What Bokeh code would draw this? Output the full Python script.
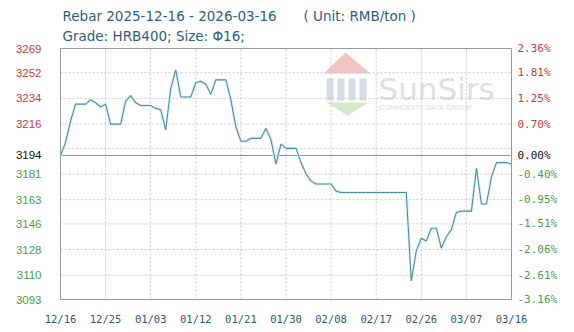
import pandas as pd
from bokeh.plotting import figure
from bokeh.models import (ColumnDataSource, FixedTicker, Range1d, Label,
                          PolyAnnotation, BoxAnnotation)
from bokeh.core.properties import value
from bokeh.embed import file_html
from bokeh.resources import INLINE

# ---------------- data ----------------
title_text = "Rebar 2025-12-16 - 2026-03-16"
unit_text = "( Unit: RMB/ton )"
subtitle_text = "Grade: HRB400; Size: \u03a616;"

start_date = "2025-12-16"
end_date = "2026-03-16"
base_price = 3194

dates = ["2025-12-16", "2025-12-17", "2025-12-18", "2025-12-19", "2025-12-21",
         "2025-12-22", "2025-12-23", "2025-12-24", "2025-12-25", "2025-12-26",
         "2025-12-28", "2025-12-29", "2025-12-30", "2025-12-31", "2026-01-01",
         "2026-01-03", "2026-01-04", "2026-01-05", "2026-01-06", "2026-01-07",
         "2026-01-08", "2026-01-09", "2026-01-11", "2026-01-12", "2026-01-13",
         "2026-01-14", "2026-01-15", "2026-01-16", "2026-01-18", "2026-01-19",
         "2026-01-20", "2026-01-21", "2026-01-22", "2026-01-23", "2026-01-25",
         "2026-01-26", "2026-01-27", "2026-01-28", "2026-01-29", "2026-01-30",
         "2026-02-01", "2026-02-02", "2026-02-03", "2026-02-04", "2026-02-05",
         "2026-02-08", "2026-02-09", "2026-02-10", "2026-02-23", "2026-02-24",
         "2026-02-25", "2026-02-26", "2026-02-27", "2026-02-28", "2026-03-01",
         "2026-03-02", "2026-03-03", "2026-03-04", "2026-03-05", "2026-03-06",
         "2026-03-08", "2026-03-09", "2026-03-10", "2026-03-11", "2026-03-12",
         "2026-03-13", "2026-03-15", "2026-03-16"]
prices = [3194, 3203, 3218, 3230, 3230,
          3233, 3231, 3228, 3230, 3216,
          3216, 3232, 3236, 3231, 3229,
          3229, 3227, 3226, 3212, 3241,
          3254, 3235, 3235, 3245, 3246,
          3244, 3237, 3247, 3247, 3233,
          3214, 3204, 3204, 3206, 3206,
          3213, 3205, 3188, 3202, 3199,
          3199, 3189, 3181, 3176, 3174,
          3174, 3169, 3168, 3168, 3106,
          3127, 3136, 3134, 3143, 3143,
          3129, 3137, 3142, 3154, 3155,
          3155, 3185, 3160, 3160, 3179,
          3189, 3189, 3188]

tick_dates = ["2025-12-16", "2025-12-25", "2026-01-03", "2026-01-12", "2026-01-21",
              "2026-01-30", "2026-02-08", "2026-02-17", "2026-02-26", "2026-03-07",
              "2026-03-16"]
tick_labels = ["12/16", "12/25", "01/03", "01/12", "01/21", "01/30", "02/08",
               "02/17", "02/26", "03/07", "03/16"]

grid_values = [3269, 3252, 3234, 3216, 3199, 3181, 3163, 3146, 3128, 3110, 3093]
left_values = [3269, 3252, 3234, 3216, 3194, 3181, 3163, 3146, 3128, 3110, 3093]
left_labels = ["3269", "3252", "3234", "3216", "3194", "3181", "3163", "3146",
               "3128", "3110", "3093"]
right_labels = ["2.36%", "1.81%", "1.25%", "0.70%", "0.00%", "-0.40%", "-0.95%",
                "-1.51%", "-2.06%", "-2.61%", "-3.16%"]

# ---------------- derived ----------------
t0 = pd.Timestamp(start_date)
days = [(pd.Timestamp(d) - t0).days for d in dates]
tick_days = [(pd.Timestamp(d) - t0).days for d in tick_dates]
x0, x1 = 0, (pd.Timestamp(end_date) - t0).days
y0, y1 = min(grid_values), max(grid_values)

RED, BLACK, GREEN = "#cc3b3b", "#111111", "#4a9e4a"
label_colors = [RED if v > base_price else (BLACK if v == base_price else GREEN)
                for v in left_values]

# layout (canvas pixels) of the plotting box
W, H = 574, 332
BOX_L, BOX_R, BOX_T, BOX_B = 60, 511, 48, 299
AXIS_H = 23                     # space under the frame for the date axis
FRAME_H = H - AXIS_H
dpp = (x1 - x0) / (BOX_R - BOX_L)
upp = (y1 - y0) / (BOX_B - BOX_T)
x_range = Range1d(x0 - BOX_L * dpp, x1 + (W - BOX_R) * dpp)
y_range = Range1d(y0 - (FRAME_H - BOX_B) * upp, y1 + BOX_T * upp)

src = ColumnDataSource(dict(x=days, y=prices))
lsrc = ColumnDataSource(dict(y=left_values, lt=left_labels, rt=right_labels,
                             c=label_colors,
                             xl=[x0] * len(left_values), xr=[x1] * len(left_values)))
vsrc = ColumnDataSource(dict(x=tick_days, ya=[y0] * len(tick_days),
                             yb=[y1] * len(tick_days)))
hsrc = ColumnDataSource(dict(y=grid_values, xa=[x0] * len(grid_values),
                             xb=[x1] * len(grid_values)))

p = figure(width=W, height=H, x_range=x_range, y_range=y_range,
           output_backend="svg", toolbar_location=None,
           min_border_left=0, min_border_right=0, min_border_top=0,
           min_border_bottom=AXIS_H)
p.background_fill_color = "white"
p.border_fill_color = "white"
p.outline_line_color = None
p.grid.visible = False
p.yaxis.visible = False

xa = p.xaxis[0]
xa.ticker = FixedTicker(ticks=tick_days)
xa.major_label_overrides = {d: l for d, l in zip(tick_days, tick_labels)}
xa.major_tick_line_color = None
xa.major_tick_out = 0
xa.major_tick_in = 0
xa.minor_tick_line_color = None
xa.axis_line_color = None
xa.major_label_standoff = 3
xa.major_label_text_font = "DejaVu Sans Mono"
xa.major_label_text_font_size = "10.5px"
xa.major_label_text_color = "#2c5a76"

# watermark (screen units: from frame left / frame bottom)
def fy(cy):
    return FRAME_H - cy

p.add_layout(PolyAnnotation(xs=[323, 345, 370], ys=[fy(73), fy(52), fy(73)],
                            xs_units="screen", ys_units="screen",
                            fill_color="#f3c4c4", fill_alpha=1, line_color=None,
                            level="underlay"))
for bx in (326, 337, 348, 359):
    p.add_layout(BoxAnnotation(left=bx, right=bx + 7, bottom=fy(100), top=fy(78),
                               left_units="screen", right_units="screen",
                               bottom_units="screen", top_units="screen",
                               fill_color="#d5dde4", fill_alpha=1, line_color=None,
                               level="underlay"))
p.add_layout(PolyAnnotation(xs=[326, 368, 347], ys=[fy(102), fy(102), fy(115)],
                            xs_units="screen", ys_units="screen",
                            fill_color="#d2e9cb", fill_alpha=1, line_color=None,
                            level="underlay"))
p.add_layout(Label(x=378, y=fy(88), x_units="screen", y_units="screen",
                   text="SunSirs", text_font="DejaVu Sans", text_font_size="31px",
                   text_color="#dde1e5", text_baseline="alphabetic",
                   level="underlay"))
p.add_layout(Label(x=379, y=fy(107), x_units="screen", y_units="screen",
                   text="COMMODITY DATA GROUP", text_font="DejaVu Sans",
                   text_font_size="7px", text_color="#dcdcdc",
                   text_baseline="middle", level="underlay"))

# grid lines
p.segment(x0="x", y0="ya", x1="x", y1="yb", source=vsrc, line_color="#c8c8c8",
          line_dash="2 2", line_width=1)
p.segment(x0="xa", y0="y", x1="xb", y1="y", source=hsrc, line_color="#c8c8c8",
          line_dash="2 2", line_width=1)
# zero (base price) line
p.segment(x0=[x0], y0=[base_price], x1=[x1], y1=[base_price],
          line_color="#8f8f8f", line_width=1)

# price line
p.line("x", "y", source=src, line_color="#e2f1f6", line_width=3)
p.line("x", "y", source=src, line_color="#4a8ea6", line_width=1.1)

# plotting box
p.quad(left=[x0], right=[x1], bottom=[y0], top=[y1], fill_color=None,
       line_color="#9a9a9a", line_width=1)

# y labels: price at left, change % at right
p.text(x="xl", y="y", text="lt", source=lsrc, x_offset=-19, text_align="right",
       text_baseline="middle", text_font=value("Liberation Sans"),
       text_font_size="11.5px", text_color="c")
p.text(x="xr", y="y", text="rt", source=lsrc, x_offset=6, text_align="left",
       text_baseline="middle", text_font=value("DejaVu Sans Mono"),
       text_font_size="11px", text_color="c")

# titles
TCOL = "#2d5f7e"
p.add_layout(Label(x=62, y=fy(15), x_units="screen", y_units="screen",
                   text=title_text, text_font="DejaVu Sans", text_font_size="13.5px",
                   text_color=TCOL, text_baseline="middle"))
p.add_layout(Label(x=303, y=fy(15), x_units="screen", y_units="screen",
                   text=unit_text, text_font="DejaVu Sans", text_font_size="13.5px",
                   text_color=TCOL, text_baseline="middle"))
p.add_layout(Label(x=62, y=fy(35), x_units="screen", y_units="screen",
                   text=subtitle_text, text_font="DejaVu Sans",
                   text_font_size="13.5px", text_color=TCOL,
                   text_baseline="middle"))

open("out.html", "w").write(file_html(p, INLINE))
